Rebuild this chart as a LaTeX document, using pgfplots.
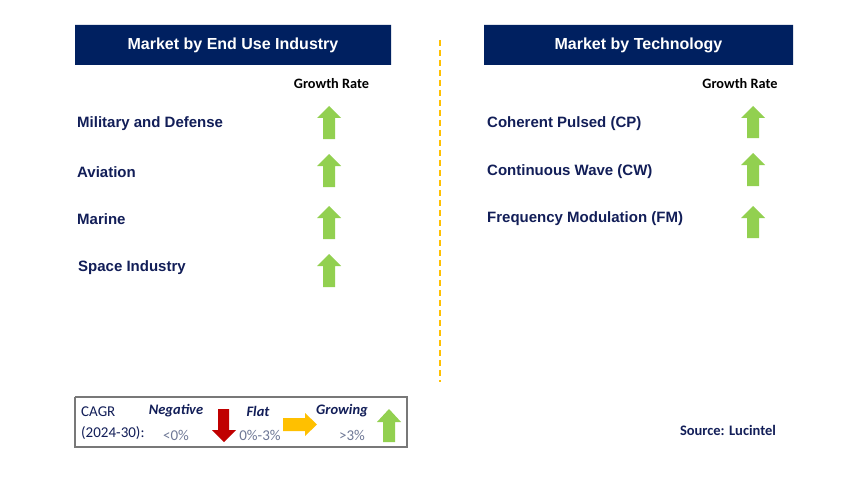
\documentclass[border=0pt]{standalone}
\usepackage{pgfplots}
\pgfplotsset{compat=1.18}
\usepackage{fontspec}
\setmainfont{Liberation Sans}
\newfontfamily\calfont{Carlito}
\definecolor{hdr}{RGB}{0,32,96}
\definecolor{tnavy}{RGB}{18,30,88}
\definecolor{agreen}{RGB}{146,208,80}
\definecolor{aorange}{RGB}{255,192,0}
\definecolor{ared}{RGB}{192,0,0}
\definecolor{lgray}{RGB}{110,120,150}
\definecolor{bgray}{RGB}{120,120,120}
\begin{document}
\begin{tikzpicture}
\begin{axis}[scale only axis, width=857bp, height=494bp,
  xmin=0, xmax=857, ymin=0, ymax=494, y dir=reverse,
  hide axis, clip=false]
% background
\addplot[fill=white, draw=none] coordinates {(0,0)(857,0)(857,494)(0,494)(0,0)};
% header boxes
\addplot[fill=hdr, draw=none] coordinates {(75,25)(391,25)(391,65)(75,65)(75,25)};
\addplot[fill=hdr, draw=none] coordinates {(484,25)(793,25)(793,65)(484,65)(484,25)};
% divider
\addplot[color=aorange, line width=1.5bp, dash pattern=on 6bp off 4bp] coordinates {(440,40)(440,382)};
% left arrows (green up)
\addplot[fill=agreen, draw=none] coordinates {(323,139)(335,139)(335,118)(341,118)(329,106)(317,118)(323,118)(323,139)};
\addplot[fill=agreen, draw=none] coordinates {(323,187)(335,187)(335,166)(341,166)(329,154)(317,166)(323,166)(323,187)};
\addplot[fill=agreen, draw=none] coordinates {(323,239)(335,239)(335,218)(341,218)(329,206)(317,218)(323,218)(323,239)};
\addplot[fill=agreen, draw=none] coordinates {(323,287)(335,287)(335,266)(341,266)(329,254)(317,266)(323,266)(323,287)};
% right arrows (green up)
\addplot[fill=agreen, draw=none] coordinates {(747,138)(759,138)(759,118)(765,118)(753,106)(741,118)(747,118)(747,138)};
\addplot[fill=agreen, draw=none] coordinates {(747,186)(759,186)(759,165)(765,165)(753,153)(741,165)(747,165)(747,186)};
\addplot[fill=agreen, draw=none] coordinates {(747,238)(759,238)(759,218)(765,218)(753,206)(741,218)(747,218)(747,238)};
% legend box
\addplot[draw=bgray, line width=1.2bp] coordinates {(75,397)(407,397)(407,447)(75,447)(75,397)};
% red down arrow
\addplot[fill=ared, draw=none] coordinates {(218,409)(229,409)(229,430)(236,430)(224,442)(212,430)(218,430)(218,409)};
% orange right arrow
\addplot[fill=aorange, draw=none] coordinates {(283,418)(305,418)(305,413)(317,424.5)(305,436)(305,431)(283,431)(283,418)};
% green up arrow
\addplot[fill=agreen, draw=none] coordinates {(383,442)(395,442)(395,422)(401,422)(389,409)(377,422)(383,422)(383,442)};

% texts
\node[font=\fontsize{16bp}{19bp}\selectfont\bfseries, text=white] at (axis cs:233,45) {Market by End Use Industry};
\node[font=\fontsize{16bp}{19bp}\selectfont\bfseries, text=white] at (axis cs:638.5,45) {Market by Technology};
\node[font=\calfont\fontsize{14.3bp}{17bp}\selectfont\bfseries, text=black] at (axis cs:331.5,84) {Growth Rate};
\node[font=\calfont\fontsize{14.3bp}{17bp}\selectfont\bfseries, text=black] at (axis cs:740,84) {Growth Rate};
\begin{scope}[every node/.style={anchor=west, inner sep=0pt, font=\fontsize{15bp}{18bp}\selectfont\bfseries, text=tnavy}]
\node at (axis cs:77,124) {Military and Defense};
\node at (axis cs:77,172) {Aviation};
\node at (axis cs:77,219) {Marine};
\node at (axis cs:78,268) {Space Industry};
\node at (axis cs:487,124) {Coherent Pulsed (CP)};
\node at (axis cs:487,172) {Continuous Wave (CW)};
\node at (axis cs:487,219) {Frequency Modulation (FM)};
\end{scope}
% legend texts
\begin{scope}[every node/.style={inner sep=0pt, font=\calfont\fontsize{15bp}{18bp}\selectfont}]
\node[anchor=west, text=tnavy] at (axis cs:81,412) {CAGR};
\node[anchor=west, text=tnavy] at (axis cs:81,433) {(2024-30):};
\node[text=tnavy, font=\calfont\fontsize{14.5bp}{17bp}\selectfont\bfseries\itshape] at (axis cs:176,411) {Negative};
\node[text=tnavy, font=\calfont\fontsize{14.5bp}{17bp}\selectfont\bfseries\itshape] at (axis cs:258,411) {Flat};
\node[text=tnavy, font=\calfont\fontsize{14.5bp}{17bp}\selectfont\bfseries\itshape] at (axis cs:342,411) {Growing};
\node[text=lgray] at (axis cs:176,435) {<0\%};
\node[text=lgray] at (axis cs:260,435) {0\%-3\%};
\node[text=lgray] at (axis cs:352,435) {>3\%};
\end{scope}
\node[inner sep=0pt, font=\calfont\fontsize{14.5bp}{17bp}\selectfont\bfseries, text=tnavy] at (axis cs:728,430) {Source: Lucintel};
\end{axis}
\end{tikzpicture}
\end{document}
